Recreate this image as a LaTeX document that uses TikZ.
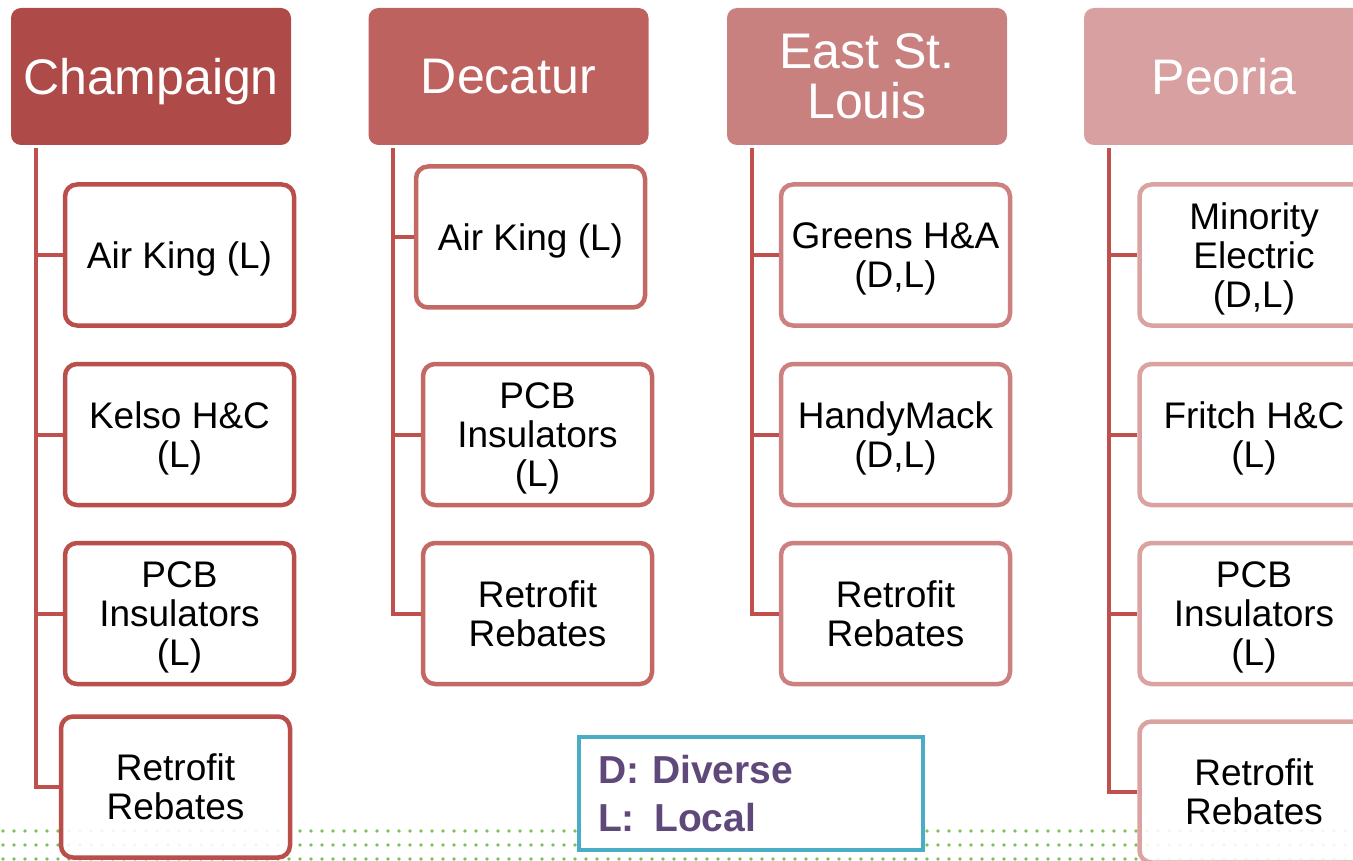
\documentclass[tikz,border=0pt]{standalone}
\usepackage{fontspec}
\setmainfont{Liberation Sans}
\usetikzlibrary{positioning}

\definecolor{champfill}{HTML}{AE4A47}
\definecolor{decfill}{HTML}{BE625F}
\definecolor{eslfill}{HTML}{C98180}
\definecolor{peofill}{HTML}{D8A0A0}
\definecolor{champline}{HTML}{B94E4B}
\definecolor{decline}{HTML}{C46864}
\definecolor{eslline}{HTML}{CC807F}
\definecolor{peoline}{HTML}{DAA3A2}
\definecolor{trunkred}{HTML}{C0504D}
\definecolor{keyblue}{HTML}{4BACC6}
\definecolor{keypurple}{HTML}{5F497A}
\definecolor{dotgreen}{HTML}{7DC05A}

\begin{document}
\begin{tikzpicture}[x=1pt,y=-1pt,
    city/.style={fill=#1, rounded corners=10pt, minimum width=280pt, minimum height=137pt,
      text=white, align=center, text depth=0pt, font=\fontsize{50}{50}\selectfont},
    firm/.style={draw=#1, line width=4.5pt, fill=white, fill opacity=0.9, text opacity=1,
      rounded corners=12pt, minimum width=229pt, minimum height=141pt,
      align=center, text depth=0pt, font=\fontsize{37}{39}\selectfont},
    branch/.style={draw=trunkred, line width=4pt},
    legend/.style={draw=keyblue, line width=4pt, fill=white, minimum width=344pt,
      minimum height=113pt, text width=306pt, inner xsep=19pt, align=left,
      text=keypurple, font=\bfseries\fontsize{39}{48}\selectfont}]
    \useasboundingbox (0,0) rectangle (1353,861);

    % dotted band at the bottom
    \foreach \row in {831,845,859}
      \foreach \col in {0,...,122}
        \fill[dotgreen] ({3+11*\col},\row) circle (1.9pt);

    \node[city=champfill] (champaign) at (151,76.5) {Champaign};
    \node[city=decfill] (decatur) at (508.5,76.5) {Decatur};
    \node[city=eslfill] (eaststlouis) at (867,76.5) {East St.\\Louis};
    \node[city=peofill] (peoria) at (1224,76.5) {Peoria};

    \node[firm=champline] (champ1) at (179.5,255) {Air King (L)};
    \node[firm=champline] (champ2) at (179.5,434.5) {Kelso H\&C\\(L)};
    \node[firm=champline] (champ3) at (179.5,613.5) {PCB\\Insulators\\(L)};
    \node[firm=champline] (champ4) at (175.5,787) {Retrofit\\Rebates};

    \node[firm=decline] (dec1) at (530.5,237) {Air King (L)};
    \node[firm=decline] (dec2) at (537.5,434.5) {PCB\\Insulators\\(L)};
    \node[firm=decline] (dec3) at (537.5,613.5) {Retrofit\\Rebates};

    \node[firm=eslline] (esl1) at (895.5,255) {Greens H\&A\\(D,L)};
    \node[firm=eslline] (esl2) at (895.5,434.5) {HandyMack\\(D,L)};
    \node[firm=eslline] (esl3) at (895.5,613.5) {Retrofit\\Rebates};

    \node[firm=peoline] (peo1) at (1254,255) {Minority\\Electric\\(D,L)};
    \node[firm=peoline] (peo2) at (1254,434.5) {Fritch H\&C\\(L)};
    \node[firm=peoline] (peo3) at (1254,613.5) {PCB\\Insulators\\(L)};
    \node[firm=peoline] (peo4) at (1254,792) {Retrofit\\Rebates};

    \node[legend] (key) at (751,793.5) {D: Diverse\\L:\ \,Local};

    % trunks and stubs
    \coordinate (champtrunk) at ([xshift=25pt,yshift=-3pt]champaign.south west);
    \coordinate (dectrunk) at ([xshift=25pt,yshift=-3pt]decatur.south west);
    \coordinate (esltrunk) at ([xshift=25pt,yshift=-3pt]eaststlouis.south west);
    \coordinate (peotrunk) at ([xshift=25pt,yshift=-3pt]peoria.south west);

    \draw[branch] (champtrunk) |- (champ4.west);
    \draw[branch] (champ1.west) -- (champ1.west -| champtrunk);
    \draw[branch] (champ2.west) -- (champ2.west -| champtrunk);
    \draw[branch] (champ3.west) -- (champ3.west -| champtrunk);

    \draw[branch] (dectrunk) |- (dec3.west);
    \draw[branch] (dec1.west) -- (dec1.west -| dectrunk);
    \draw[branch] (dec2.west) -- (dec2.west -| dectrunk);

    \draw[branch] (esltrunk) |- (esl3.west);
    \draw[branch] (esl1.west) -- (esl1.west -| esltrunk);
    \draw[branch] (esl2.west) -- (esl2.west -| esltrunk);

    \draw[branch] (peotrunk) |- (peo4.west);
    \draw[branch] (peo1.west) -- (peo1.west -| peotrunk);
    \draw[branch] (peo2.west) -- (peo2.west -| peotrunk);
    \draw[branch] (peo3.west) -- (peo3.west -| peotrunk);
\end{tikzpicture}
\end{document}
